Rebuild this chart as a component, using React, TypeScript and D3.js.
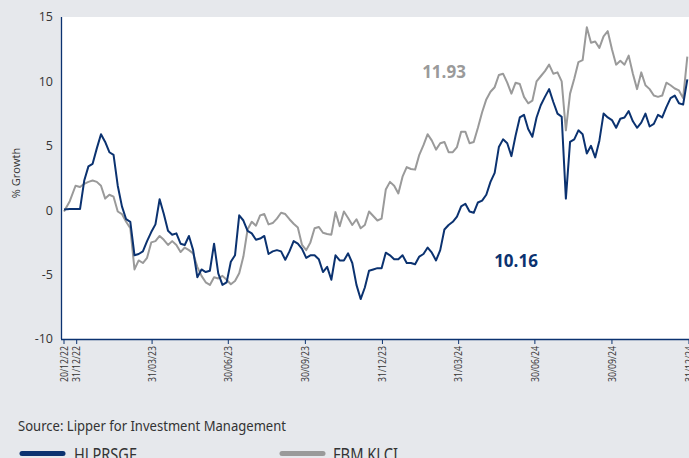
import React, { useEffect } from 'react';
import * as d3 from 'd3';

// ---- data ----
const startDate = '20/12/22';
const stepDays = 5;
const tickLabels = ['20/12/22', '31/12/22', '31/03/23', '30/06/23', '30/09/23', '31/12/23', '31/03/24', '30/06/24', '30/09/24', '31/12/24'];
const yTicks = [-10, -5, 0, 5, 10, 15];
const seriesNames = ['HLPRSGE', 'FBM KLCI'];
const endLabels = ['10.16', '11.93'];
const sourceText = 'Source: Lipper for Investment Management';
const yTitle = '% Growth';

const hlprsge = [
  0.05, 0.1, 0.1, 0.1, 2.3, 3.4, 3.6, 4.8, 5.9, 5.3,
  4.5, 4.3, 1.9, 0.3, -0.7, -0.9, -3.5, -3.4, -3.2, -2.4,
  -1.7, -1.1, 0.85, -0.3, -1.6, -1.9, -1.8, -2.6, -2.7, -2.0,
  -3.1, -5.2, -4.6, -4.8, -4.7, -2.6, -4.9, -5.8, -5.6, -4.0,
  -3.5, -0.4, -0.8, -1.6, -1.8, -2.3, -2.2, -2.0, -3.4, -3.2,
  -3.1, -3.2, -3.85, -3.2, -2.4, -2.6, -3.0, -3.7, -3.5, -3.5,
  -3.8, -4.8, -4.4, -5.4, -3.5, -3.9, -3.9, -3.35, -4.1, -5.8,
  -6.9, -6.0, -4.7, -4.6, -4.5, -4.5, -3.3, -3.5, -3.8, -3.8,
  -3.5, -4.1, -4.1, -4.2, -3.6, -3.4, -2.9, -3.3, -3.9, -3.1,
  -1.5, -1.15, -0.9, -0.5, 0.3, 0.5, -0.1, -0.2, 0.6, 0.75,
  1.2, 2.2, 2.9, 4.9, 5.5, 5.2, 4.2, 5.8, 7.2, 7.4,
  6.3, 5.7, 7.2, 8.15, 8.8, 9.4, 8.4, 7.5, 7.25, 0.9,
  5.3, 5.5, 6.2, 5.9, 4.4, 5.0, 4.1, 5.4, 7.5, 7.2,
  7.0, 6.4, 7.1, 7.2, 7.7, 6.9, 6.4, 6.8, 7.5, 6.5,
  6.7, 7.4, 7.2, 8.0, 8.7, 8.9, 8.3, 8.2, 10.16,
];

const fbmklci = [
  -0.1, 0.7, 1.9, 1.8, 2.05, 2.2, 2.3, 2.2, 1.9, 0.9,
  1.2, 1.05, -0.1, -0.3, -0.9, -1.4, -4.6, -3.9, -4.1, -3.7,
  -2.5, -2.4, -2.0, -2.3, -2.7, -2.4, -2.7, -3.25, -2.9, -3.1,
  -3.35, -4.4, -5.1, -5.6, -5.8, -5.2, -5.3, -5.1, -5.4, -5.75,
  -5.5, -4.9, -3.6, -1.5, -0.9, -1.2, -0.4, -0.3, -1.1, -1.0,
  -0.65, -0.2, -0.3, -0.7, -1.05, -1.35, -2.7, -3.1, -2.5, -1.4,
  -1.3, -1.75, -1.85, -1.9, -0.15, -1.25, -0.1, -0.6, -1.15, -0.7,
  -1.4, -1.15, -0.1, -0.45, -0.8, -0.65, 1.6, 2.2, 1.9, 1.3,
  2.6, 3.35, 3.2, 3.15, 4.3, 5.05, 5.9, 5.4, 4.7, 5.2,
  5.3, 4.5, 4.5, 4.9, 6.1, 6.1, 5.2, 5.3, 6.4, 7.6,
  8.6, 9.2, 9.55, 10.5, 10.6, 9.9, 9.05, 9.9, 9.8, 8.8,
  8.3, 8.5, 10.0, 10.4, 10.8, 11.3, 10.6, 10.7, 10.0, 6.2,
  9.05, 10.2, 11.5, 11.65, 14.2, 13.0, 13.1, 12.6, 13.5, 13.9,
  12.5, 11.3, 11.6, 11.3, 12.0, 10.6, 9.4, 10.7, 9.7, 9.4,
  8.9, 8.8, 8.9, 9.9, 9.7, 9.45, 9.3, 8.7, 11.93,
];

// ---- layout ----
const W = 689;
const H = 458;
const plot = { left: 62, right: 689, top: 17, bottom: 339 };
const NAVY = '#0b3270';
const GREY = '#9a9a9a';
const BG = '#e6e8ec';
const FONT = "'Open Sans', 'Noto Sans', sans-serif";

export default function App() {
  useEffect(() => {
    document.body.style.margin = '0';
    document.body.style.background = BG;
  }, []);

  const parse = d3.timeParse('%d/%m/%y');
  const fmt = d3.timeFormat('%d/%m/%y');
  const t0 = parse(startDate) as Date;
  const tickDates = tickLabels.map((s) => parse(s) as Date);

  const x = d3
    .scaleTime()
    .domain([tickDates[0], tickDates[1], tickDates[tickDates.length - 1]])
    .range([64, 76.7, 689]);
  const y = d3.scaleLinear().domain([-10, 15]).range([plot.bottom, plot.top]);

  const mk = (vals: number[]) =>
    vals.map((v, i) => ({ d: d3.timeDay.offset(t0, i * stepDays), v }));

  const line = d3
    .line<{ d: Date; v: number }>()
    .x((p) => x(p.d))
    .y((p) => y(p.v))
    .curve(d3.curveLinear);

  const series = [
    { name: seriesNames[1], data: mk(fbmklci), color: GREY },
    { name: seriesNames[0], data: mk(hlprsge), color: NAVY },
  ];

  return (
    <svg width={W} height={H} style={{ position: 'absolute', left: 0, top: 0, display: 'block' }} fontFamily={FONT}>
      <defs>
        <clipPath id="plotclip">
          <rect x={plot.left} y={plot.top - 2} width={plot.right - plot.left} height={plot.bottom - plot.top + 4} />
        </clipPath>
      </defs>
      <rect x={0} y={0} width={W} height={H} fill={BG} />
      <rect x={plot.left} y={plot.top} width={plot.right - plot.left} height={plot.bottom - plot.top} fill="#ffffff" />

      {/* lines */}
      <g clipPath="url(#plotclip)">
        {series.map((s) => (
          <path key={s.name} d={line(s.data) || ''} fill="none" stroke={s.color} strokeWidth={2} strokeLinejoin="round" />
        ))}
      </g>

      {/* axes */}
      <line x1={plot.left - 0.5} x2={plot.left - 0.5} y1={plot.top} y2={plot.bottom} stroke={NAVY} strokeWidth={1.3} />
      <line x1={plot.left - 1} x2={plot.right} y1={plot.bottom + 0.5} y2={plot.bottom + 0.5} stroke={NAVY} strokeWidth={1.3} />

      {y.ticks(5).filter((t) => yTicks.includes(t)).map((t) => (
        <text key={t} x={53} y={y(t)} dy="0.35em" textAnchor="end" fontSize={12.5} fill="#333">
          {t}
        </text>
      ))}

      {tickDates.map((d, i) => {
        const px = x(d);
        return (
          <g key={i} transform={`translate(${px},${plot.bottom})`}>
            <line x1={0} x2={0} y1={0} y2={5} stroke={NAVY} strokeWidth={1} />
            <text
              transform="rotate(-90)"
              x={-7}
              y={0}
              dy="0.35em"
              textAnchor="end"
              fontSize={10.5}
              fill="#333"
              textLength={36}
              lengthAdjust="spacingAndGlyphs"
            >
              {fmt(d)}
            </text>
          </g>
        );
      })}

      <text transform={`translate(20,${(plot.top + plot.bottom) / 2 - 5}) rotate(-90)`} textAnchor="middle" fontSize={11} fill="#333">
        {yTitle}
      </text>

      {/* end value labels */}
      <text x={444} y={78} textAnchor="middle" fontSize={17} fontWeight="bold" fill={GREY}>
        {endLabels[1]}
      </text>
      <text x={516} y={267} textAnchor="middle" fontSize={17} fontWeight="bold" fill={NAVY}>
        {endLabels[0]}
      </text>

      {/* source */}
      <text x={18} y={431} fontSize={14} fill="#333" fontFamily="'Noto Sans', sans-serif" textLength={268} lengthAdjust="spacingAndGlyphs">
        {sourceText}
      </text>

      {/* legend */}
      <line x1={22} x2={63} y1={453.5} y2={453.5} stroke={NAVY} strokeWidth={5} strokeLinecap="round" />
      <text x={74} y={461} fontSize={18} fill="#333" fontFamily="'Noto Sans', sans-serif" textLength={63} lengthAdjust="spacingAndGlyphs">
        {seriesNames[0]}
      </text>
      <line x1={282} x2={323} y1={453.5} y2={453.5} stroke={GREY} strokeWidth={5} strokeLinecap="round" />
      <text x={333} y={461} fontSize={18} fill="#333" fontFamily="'Noto Sans', sans-serif" textLength={65} lengthAdjust="spacingAndGlyphs">
        {seriesNames[1]}
      </text>
    </svg>
  );
}
